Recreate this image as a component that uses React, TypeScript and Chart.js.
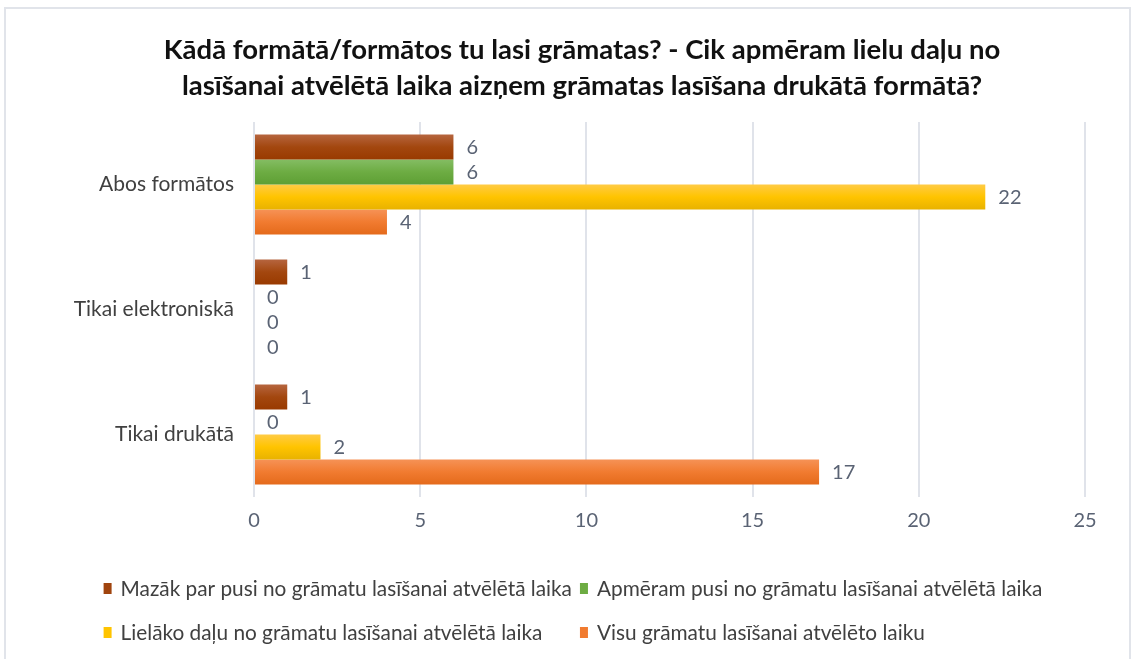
import React, { useEffect, useRef } from "react";
import { Chart, registerables } from "chart.js";

Chart.register(...registerables);

const titleLines = [
  "Kādā formātā/formātos tu lasi grāmatas? - Cik apmēram lielu daļu no",
  "lasīšanai atvēlētā laika aizņem grāmatas lasīšana drukātā formātā?",
];
const categories = ["Abos formātos", "Tikai elektroniskā", "Tikai drukātā"];
const seriesNames = [
  "Mazāk par pusi no grāmatu lasīšanai atvēlētā laika",
  "Apmēram pusi no grāmatu lasīšanai atvēlētā laika",
  "Lielāko daļu no grāmatu lasīšanai atvēlētā laika",
  "Visu grāmatu lasīšanai atvēlēto laiku",
];
const lessThanHalf = [6, 1, 1];
const aboutHalf = [6, 0, 0];
const mostOfIt = [22, 0, 2];
const allOfIt = [4, 0, 17];
const axisMin = 0;
const axisMax = 25;
const axisStep = 5;

// gradient stops per series: top, middle, bottom
const seriesGradients = [
  ["#B6653F", "#A3470F", "#993A00"],
  ["#84BD63", "#6DAC43", "#5E9F34"],
  ["#FFCB45", "#FFC400", "#E8B200"],
  ["#F69256", "#F17B30", "#E46A1B"],
];
const seriesSolid = ["#A0440E", "#6DAC43", "#FFC400", "#F17B30"];

const FONT = "Lato, 'Open Sans', sans-serif";
const LABEL_COLOR = "#5A6374";

const titleDraw = {
  id: "titleDraw",
  afterDraw(chart: any) {
    const ctx = chart.ctx;
    ctx.save();
    ctx.font = `bold 27.5px ${FONT}`;
    ctx.fillStyle = "#111111";
    ctx.textAlign = "center";
    ctx.textBaseline = "middle";
    titleLines.forEach((line, i) => {
      ctx.fillText(line, 582, 50 + i * 36);
    });
    ctx.restore();
  },
};

const gradientBars = {
  id: "gradientBars",
  beforeDatasetDraw(chart: any, args: any) {
    const ctx = chart.ctx;
    const meta = args.meta;
    const grads = seriesGradients[args.index];
    ctx.save();
    meta.data.forEach((el: any) => {
      const p = el.getProps(["x", "y", "base", "height"], true);
      const left = Math.min(p.x, p.base);
      const w = Math.abs(p.x - p.base);
      if (w <= 0.5) return;
      const top = p.y - p.height / 2;
      const g = ctx.createLinearGradient(0, top, 0, top + p.height);
      g.addColorStop(0, grads[0]);
      g.addColorStop(0.5, grads[1]);
      g.addColorStop(1, grads[2]);
      ctx.fillStyle = g;
      ctx.fillRect(left, top, w, p.height);
    });
    ctx.restore();
    return false;
  },
};

const valueLabels = {
  id: "valueLabels",
  afterDatasetsDraw(chart: any) {
    const ctx = chart.ctx;
    ctx.save();
    ctx.font = `20px ${FONT}`;
    ctx.fillStyle = LABEL_COLOR;
    ctx.textBaseline = "middle";
    ctx.textAlign = "left";
    chart.data.datasets.forEach((ds: any, i: number) => {
      const meta = chart.getDatasetMeta(i);
      meta.data.forEach((el: any, j: number) => {
        const p = el.getProps(["x", "y"], true);
        ctx.fillText(String(ds.data[j]), p.x + 13, p.y + 1);
      });
    });
    ctx.restore();
  },
};

const gridLegend = {
  id: "gridLegend",
  afterDraw(chart: any) {
    const ctx = chart.ctx;
    ctx.save();
    ctx.font = `20.8px ${FONT}`;
    ctx.textBaseline = "middle";
    const ds = chart.data.datasets;
    const markerW = 8;
    const markerGap = 9;
    const colGap = 8;
    const col0W = Math.max(ctx.measureText(ds[0].label).width, ctx.measureText(ds[2].label).width) + markerW + markerGap;
    const col1W = Math.max(ctx.measureText(ds[1].label).width, ctx.measureText(ds[3].label).width) + markerW + markerGap;
    const total = col0W + colGap + col1W;
    const centerX = 573;
    const x0 = centerX - total / 2;
    const colX = [x0, x0 + col0W + colGap];
    const rowY = [589, 633];
    ds.forEach((d: any, i: number) => {
      const cx = colX[i % 2];
      const cy = rowY[Math.floor(i / 2)];
      ctx.fillStyle = seriesSolid[i];
      ctx.fillRect(cx, cy - 6, markerW, 11);
      ctx.fillStyle = "#404040";
      ctx.textAlign = "left";
      ctx.fillText(d.label, cx + markerW + markerGap, cy);
    });
    ctx.restore();
  },
};

export default function App() {
  const ref = useRef<HTMLCanvasElement>(null);
  useEffect(() => {
    if (!ref.current) return;
    const values = [lessThanHalf, aboutHalf, mostOfIt, allOfIt];
    const chart = new Chart(ref.current, {
      type: "bar",
      data: {
        labels: categories,
        datasets: seriesNames.map((name, i) => ({
          label: name,
          data: values[i],
          backgroundColor: seriesSolid[i],
          categoryPercentage: 0.8,
          barPercentage: 1,
        })),
      },
      options: {
        indexAxis: "y",
        responsive: false,
        animation: false,
        layout: { padding: { left: 30, right: 51, top: 122, bottom: 0 } },
        plugins: {
          legend: { display: false },
          tooltip: { enabled: false },
          title: { display: false },
        },
        scales: {
          x: {
            min: axisMin,
            max: axisMax,
            ticks: {
              stepSize: axisStep,
              color: LABEL_COLOR,
              font: { family: FONT, size: 20 },
              padding: 12,
            },
            grid: { color: "#E0E3EA", lineWidth: 2, drawTicks: false },
            border: { display: false },
            afterFit: (s: any) => {
              s.height = 162;
            },
          },
          y: {
            ticks: {
              color: "#404040",
              font: { family: FONT, size: 21 },
              padding: 20,
            },
            grid: { display: false, drawTicks: false },
            border: { display: false },
            afterFit: (s: any) => {
              s.width = 224;
            },
          },
        },
      },
      plugins: [gradientBars, valueLabels, gridLegend, titleDraw],
    });
    return () => chart.destroy();
  }, []);

  return (
    <div style={{ position: "fixed", left: 0, top: 0, width: 1136, height: 659, overflow: "hidden", background: "#fff" }}>
      <div
        style={{
          position: "absolute",
          left: 4,
          top: 7,
          width: 1127,
          height: 700,
          border: "2px solid #E1E4EA",
          boxSizing: "border-box",
        }}
      />
      <canvas ref={ref} width={1136} height={659} style={{ position: "absolute", left: 0, top: 0 }} />
    </div>
  );
}
